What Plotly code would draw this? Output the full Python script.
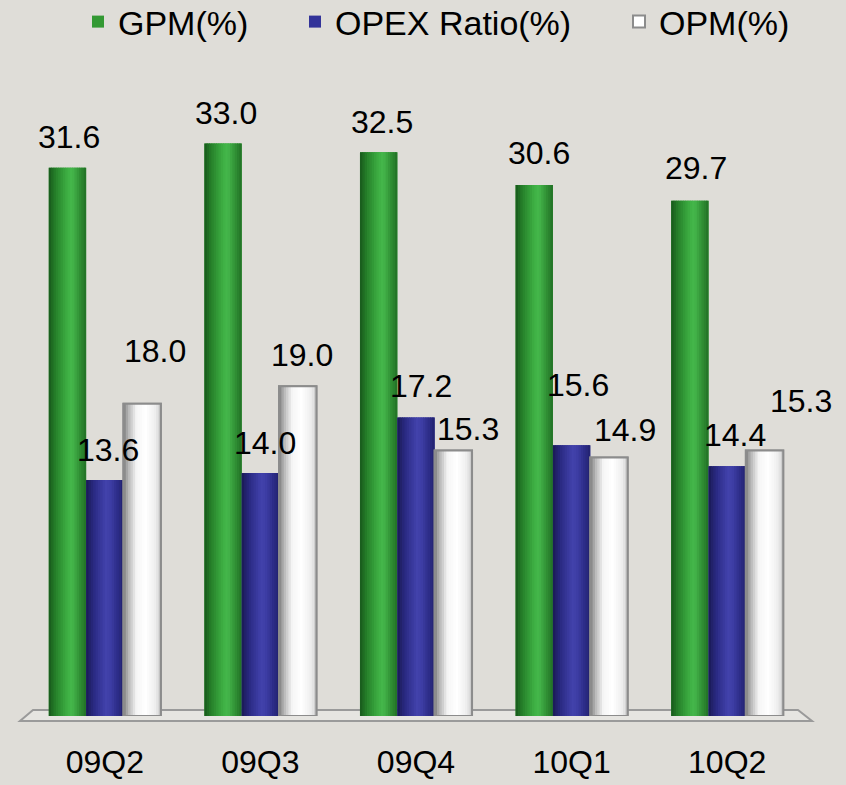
import plotly.graph_objects as go

# ---------------- data ----------------
categories = ["09Q2", "09Q3", "09Q4", "10Q1", "10Q2"]
gpm = [31.6, 33.0, 32.5, 30.6, 29.7]
opex_ratio = [13.6, 14.0, 17.2, 15.6, 14.4]
opm = [18.0, 19.0, 15.3, 14.9, 15.3]
series_names = ["GPM(%)", "OPEX Ratio(%)", "OPM(%)"]

# ---------------- layout geometry ----------------
W, H = 846, 785
ML, MR, MT, MB = 27, 41, 57, 69
PW, PH = W - ML - MR, H - MT - MB
PX_PER_UNIT = 17.35
Y_TOP = PH / PX_PER_UNIT
BW = 0.24                 # bar width (category units)
OFFS = [-0.36, -0.12, 0.12]
FONT = "Liberation Sans, Arial, Helvetica, sans-serif"
BG = "#dfddd8"

# cylinder shading stops (fraction across bar -> colour)
STOPS = [
    [(0.0, (24, 88, 27)), (0.18, (38, 128, 42)), (0.5, (62, 176, 68)), (0.62, (70, 184, 76)),
     (0.85, (46, 140, 50)), (1.0, (34, 112, 38))],
    [(0.0, (26, 26, 84)), (0.2, (42, 42, 130)), (0.52, (66, 66, 172)), (0.64, (62, 62, 166)),
     (0.86, (44, 44, 134)), (1.0, (34, 34, 110))],
    [(0.0, (125, 125, 125)), (0.12, (178, 178, 178)), (0.35, (246, 246, 246)), (0.6, (255, 255, 255)),
     (0.88, (236, 236, 236)), (1.0, (196, 196, 196))],
]
BASE = ["#339933", "#333399", "#ffffff"]


def interp(stops, t):
    for (t0, c0), (t1, c1) in zip(stops[:-1], stops[1:]):
        if t0 <= t <= t1:
            f = (t - t0) / (t1 - t0) if t1 > t0 else 0
            c = [round(a + (b - a) * f) for a, b in zip(c0, c1)]
            return "rgb(%d,%d,%d)" % tuple(c)
    return "rgb(%d,%d,%d)" % stops[-1][1]


fig = go.Figure()
N = 16
all_vals = [gpm, opex_ratio, opm]
legend_ids = ["legend", "legend2", "legend3"]
for s, vals in enumerate(all_vals):
    off = OFFS[s]
    # base trace carrying the legend entry
    fig.add_trace(go.Bar(
        x=categories, y=vals, width=BW, offset=off, name=series_names[s],
        legend=legend_ids[s], showlegend=True,
        marker=dict(color=BASE[s], line=dict(color="#8c8c8c" if s == 2 else BASE[s],
                                             width=2 if s == 2 else 0)),
        hoverinfo="skip"))
    sw = BW / N
    for k in range(N):
        start = off + k * sw
        width = min(sw * 1.4, off + BW - start)
        fig.add_trace(go.Bar(
            x=categories, y=vals, width=width, offset=start,
            marker=dict(color=interp(STOPS[s], (k + 0.5) / N), line=dict(width=0)),
            showlegend=False, hoverinfo="skip"))
    if s == 2:
        fig.add_trace(go.Bar(
            x=categories, y=vals, width=BW, offset=off,
            marker=dict(color="rgba(0,0,0,0)", line=dict(color="#8c8c8c", width=2)),
            showlegend=False, hoverinfo="skip"))

# data labels (per-point placement as in the original)
label_dx = [[2, 3, 3, 5, 6], [3, 5, 5, 6, 8], [13, 4, 15, 16, 36]]
label_dy = [[31, 30, 30, 32, 33], [30, 30, 32, 60, 31], [53, 31, 22, 27, 50]]
for s, vals in enumerate(all_vals):
    for i, v in enumerate(vals):
        fig.add_annotation(
            x=i + OFFS[s] + BW / 2, y=v, xref="x", yref="y", text=f"{v:.1f}",
            showarrow=False, xanchor="center", yanchor="middle",
            xshift=label_dx[s][i], yshift=label_dy[s][i],
            font=dict(family=FONT, size=32, color="#000000"))


def px(x):
    return (x - ML) / PW


def py(y):
    return (H - MB - y) / PH


# 3-D floor
floor = [(33, 710), (798, 710), (812, 721), (20, 721)]
path = "M " + " L ".join(f"{px(a):.5f},{py(b):.5f}" for a, b in floor) + " Z"
fig.add_shape(type="path", path=path, xref="paper", yref="paper", layer="below",
              fillcolor="#e6e5e1", line=dict(color="#9a9a9a", width=2))

legend_common = dict(orientation="h", yanchor="middle", xanchor="left",
                     font=dict(family=FONT, size=34, color="#000000"),
                     bgcolor="rgba(0,0,0,0)", borderwidth=0)
legend_x_px = [78, 295, 619]

fig.update_layout(
    width=W, height=H,
    margin=dict(l=ML, r=MR, t=MT, b=MB, pad=0, autoexpand=False),
    paper_bgcolor=BG, plot_bgcolor=BG,
    barmode="overlay",
    showlegend=True,
    legend=dict(x=px(legend_x_px[0]), y=py(22), **legend_common),
    legend2=dict(x=px(legend_x_px[1]), y=py(22), **legend_common),
    legend3=dict(x=px(legend_x_px[2]), y=py(22), **legend_common),
    xaxis=dict(type="category", range=[-0.5, 4.5], showgrid=False, zeroline=False,
               showline=False, ticks="", tickfont=dict(family=FONT, size=32, color="#000000"),
               ticklabelstandoff=24, automargin=False, fixedrange=True),
    yaxis=dict(range=[0, Y_TOP], visible=False, showgrid=False, zeroline=False,
               automargin=False, fixedrange=True),
    font=dict(family=FONT, color="#000000"),
)

fig.write_html("out.html")
